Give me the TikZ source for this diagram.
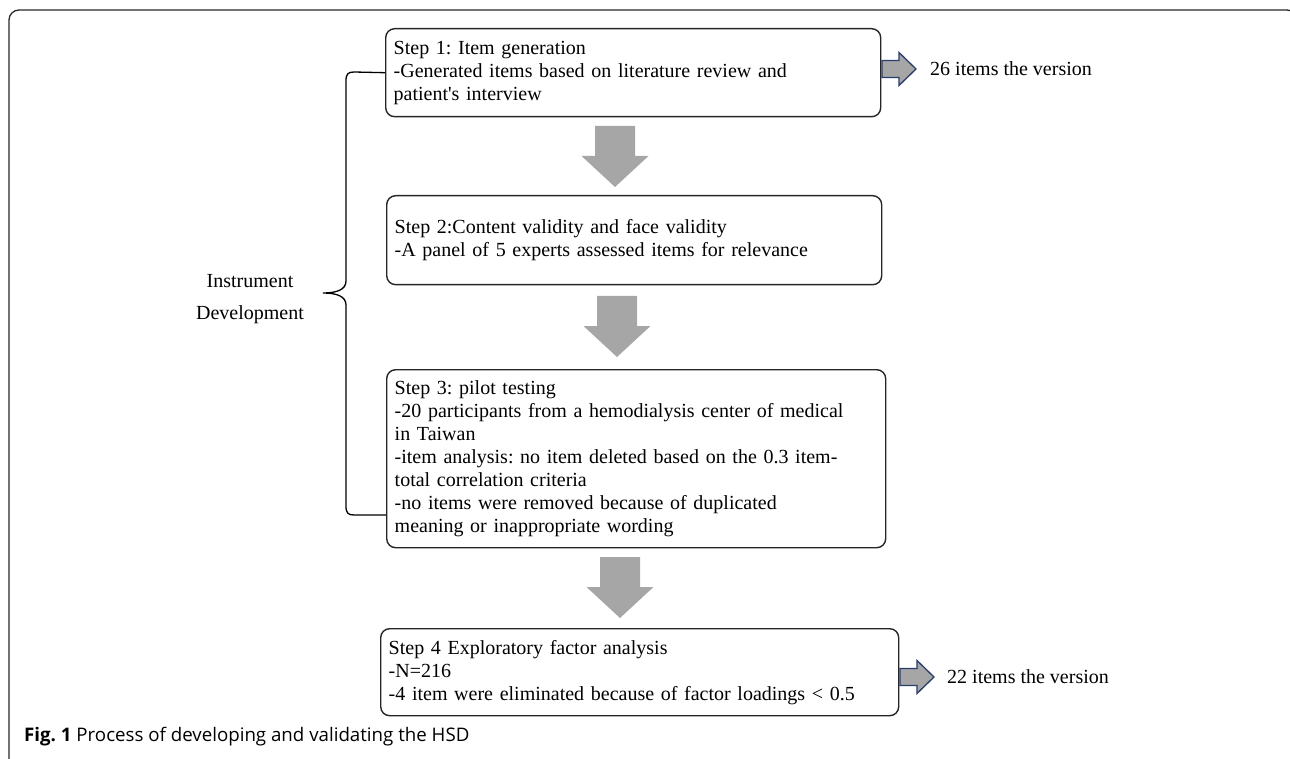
\documentclass[tikz,border=0pt]{standalone}
\usepackage{fontspec}
\setmainfont{Liberation Serif}
\newfontfamily\capfont{Open Sans}
\definecolor{boxline}{RGB}{38,38,38}
\definecolor{framegray}{RGB}{40,40,40}
\definecolor{arrowgray}{RGB}{166,166,166}
\definecolor{arrowblue}{RGB}{40,62,108}
\tikzset{
  stepbox/.style={draw=boxline, line width=1.4pt, rounded corners=9pt, align=left,
    anchor=north west, inner xsep=8pt, inner ysep=0pt,
    font=\fontsize{20}{23}\selectfont},
  sidetext/.style={anchor=west, inner sep=0pt, font=\fontsize{20}{23}\selectfont},
  bracestyle/.style={draw=black, line width=1.3pt},
  downarr/.pic={\fill[arrowgray] (-20,0) -- (20,0) -- (20,30) -- (33.5,30) -- (0,61) -- (-33.5,30) -- (-20,30) -- cycle;},
  rightarr/.pic={\filldraw[fill=arrowgray, draw=arrowblue, line width=1.3pt, line join=miter] (0,-8.5) -- (17,-8.5) -- (17,-16.5) -- (34,0) -- (17,16.5) -- (17,8.5) -- (0,8.5) -- cycle;}
}
\begin{document}
\frenchspacing
\begin{tikzpicture}[x=1pt,y=-1pt]
\useasboundingbox (0,0) rectangle (1290,759);
% outer frame
\draw[draw=framegray, line width=1.3pt, rounded corners=10pt] (9,775) -- (9,10) -- (1297,10) -- (1297,775);

% step boxes
\node[stepbox, text width=479pt, minimum height=88pt] (b1) at (385,28)
  {Step 1: Item generation\\-Generated items based on literature review and\\patient\textquotesingle s interview};
\node[stepbox, text width=479pt, minimum height=89pt] (b2) at (386,195)
  {Step 2:Content validity and face validity\\-A panel of 5 experts assessed items for relevance};
\node[stepbox, text width=483pt, minimum height=178pt] (b3) at (386,369)
  {Step 3: pilot testing\\-20 participants from a hemodialysis center of medical\\in Taiwan\\-item analysis: no item deleted based on the 0.3 item-\\total correlation criteria\\-no items were removed because of duplicated\\meaning or inappropriate wording};
\node[stepbox, text width=502pt, minimum height=87pt] (b4) at (380,628)
  {Step 4 Exploratory factor analysis\\-N=216\\-4 item were eliminated because of factor loadings < 0.5};

% down block arrows
\pic at (615,126) {downarr};
\pic at (617,296) {downarr};
\pic at (620,557) {downarr};

% right block arrows and results
\pic at (882,69) {rightarr};
\node[sidetext] (r1) at (930,69) {26 items the version};
\pic at (900,677) {rightarr};
\node[sidetext] (r2) at (947,677) {22 items the version};

% brace
\coordinate (bb) at (354,515);
\draw[bracestyle] (b1.west) -- (354,72) .. controls (348,72) and (346,74) .. (346,81)
  -- (346,281) .. controls (346,290) and (336,293) .. (323,293)
  .. controls (336,293) and (346,296) .. (346,305)
  -- (346,506) .. controls (346,513) and (348,515) .. (bb) -- (bb -| b3.west);

\node[align=center, inner sep=0pt, font=\fontsize{20}{32}\selectfont] (lab) at (250,299)
  {Instrument\\Development};

% caption
\node[anchor=west, inner sep=0pt, font=\capfont\fontsize{18.7}{20}\selectfont] (cap) at (24,737)
  {\textbf{Fig. 1} Process of developing and validating the HSD};
\end{tikzpicture}
\end{document}
